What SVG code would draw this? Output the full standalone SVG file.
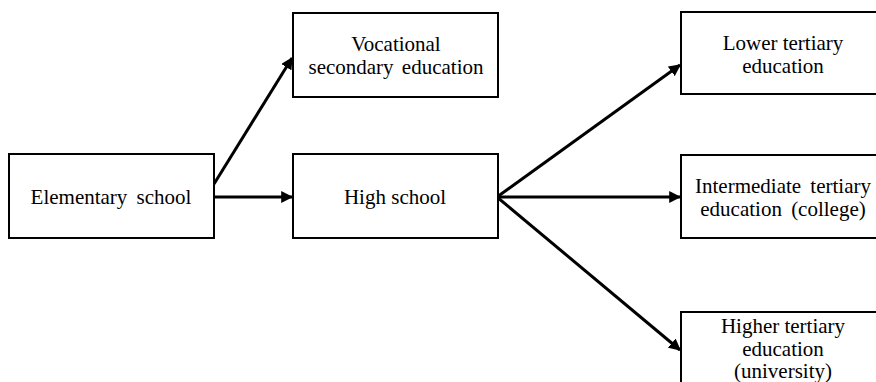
<svg xmlns="http://www.w3.org/2000/svg" width="876" height="382" viewBox="0 0 876 382">
<defs>
<style>
.box{fill:#fff;stroke:#000;stroke-width:2}
.t{font-size:21px;fill:#000;text-anchor:middle}
.c{stroke:#000;stroke-width:3;fill:none;marker-end:url(#ah)}
</style>
<marker id="ah" viewBox="0 0 10 10" refX="9" refY="5" markerWidth="4" markerHeight="4" orient="auto" markerUnits="strokeWidth">
<path d="M0,0 L10,5 L0,10 z" fill="#000"/>
</marker>
</defs>
<rect width="876" height="382" fill="#fff"/>
<g id="connectors">
<line class="c" x1="214" y1="184" x2="292" y2="58"/>
<line class="c" x1="214" y1="197" x2="292" y2="197"/>
<line class="c" x1="497" y1="197" x2="680" y2="65"/>
<line class="c" x1="497" y1="197" x2="680" y2="197"/>
<line class="c" x1="497" y1="197" x2="680" y2="350"/>
</g>
<g font-family="Liberation Serif, DejaVu Serif, serif">
<g id="elementary">
<rect class="box" x="9" y="154" width="205" height="84"/>
<text class="t" x="111" y="204" word-spacing="4">Elementary school</text>
</g>
<g id="vocational">
<rect class="box" x="293" y="13" width="205" height="84"/>
<text class="t" x="396" y="51">Vocational</text>
<text class="t" x="396" y="74" word-spacing="3">secondary education</text>
</g>
<g id="highschool">
<rect class="box" x="293" y="154" width="205" height="84"/>
<text class="t" x="395" y="204">High school</text>
</g>
<g id="lower">
<rect class="box" x="681" y="12" width="205" height="82"/>
<text class="t" x="783" y="50">Lower tertiary</text>
<text class="t" x="783" y="73">education</text>
</g>
<g id="intermediate">
<rect class="box" x="681" y="155" width="205" height="83"/>
<text class="t" x="783" y="193" word-spacing="4">Intermediate tertiary</text>
<text class="t" x="783" y="216" word-spacing="4">education (college)</text>
</g>
<g id="higher">
<rect class="box" x="681" y="312" width="205" height="80"/>
<text class="t" x="783" y="333">Higher tertiary</text>
<text class="t" x="783" y="356">education</text>
<text class="t" x="783" y="378">(university)</text>
</g>
</g>
</svg>
